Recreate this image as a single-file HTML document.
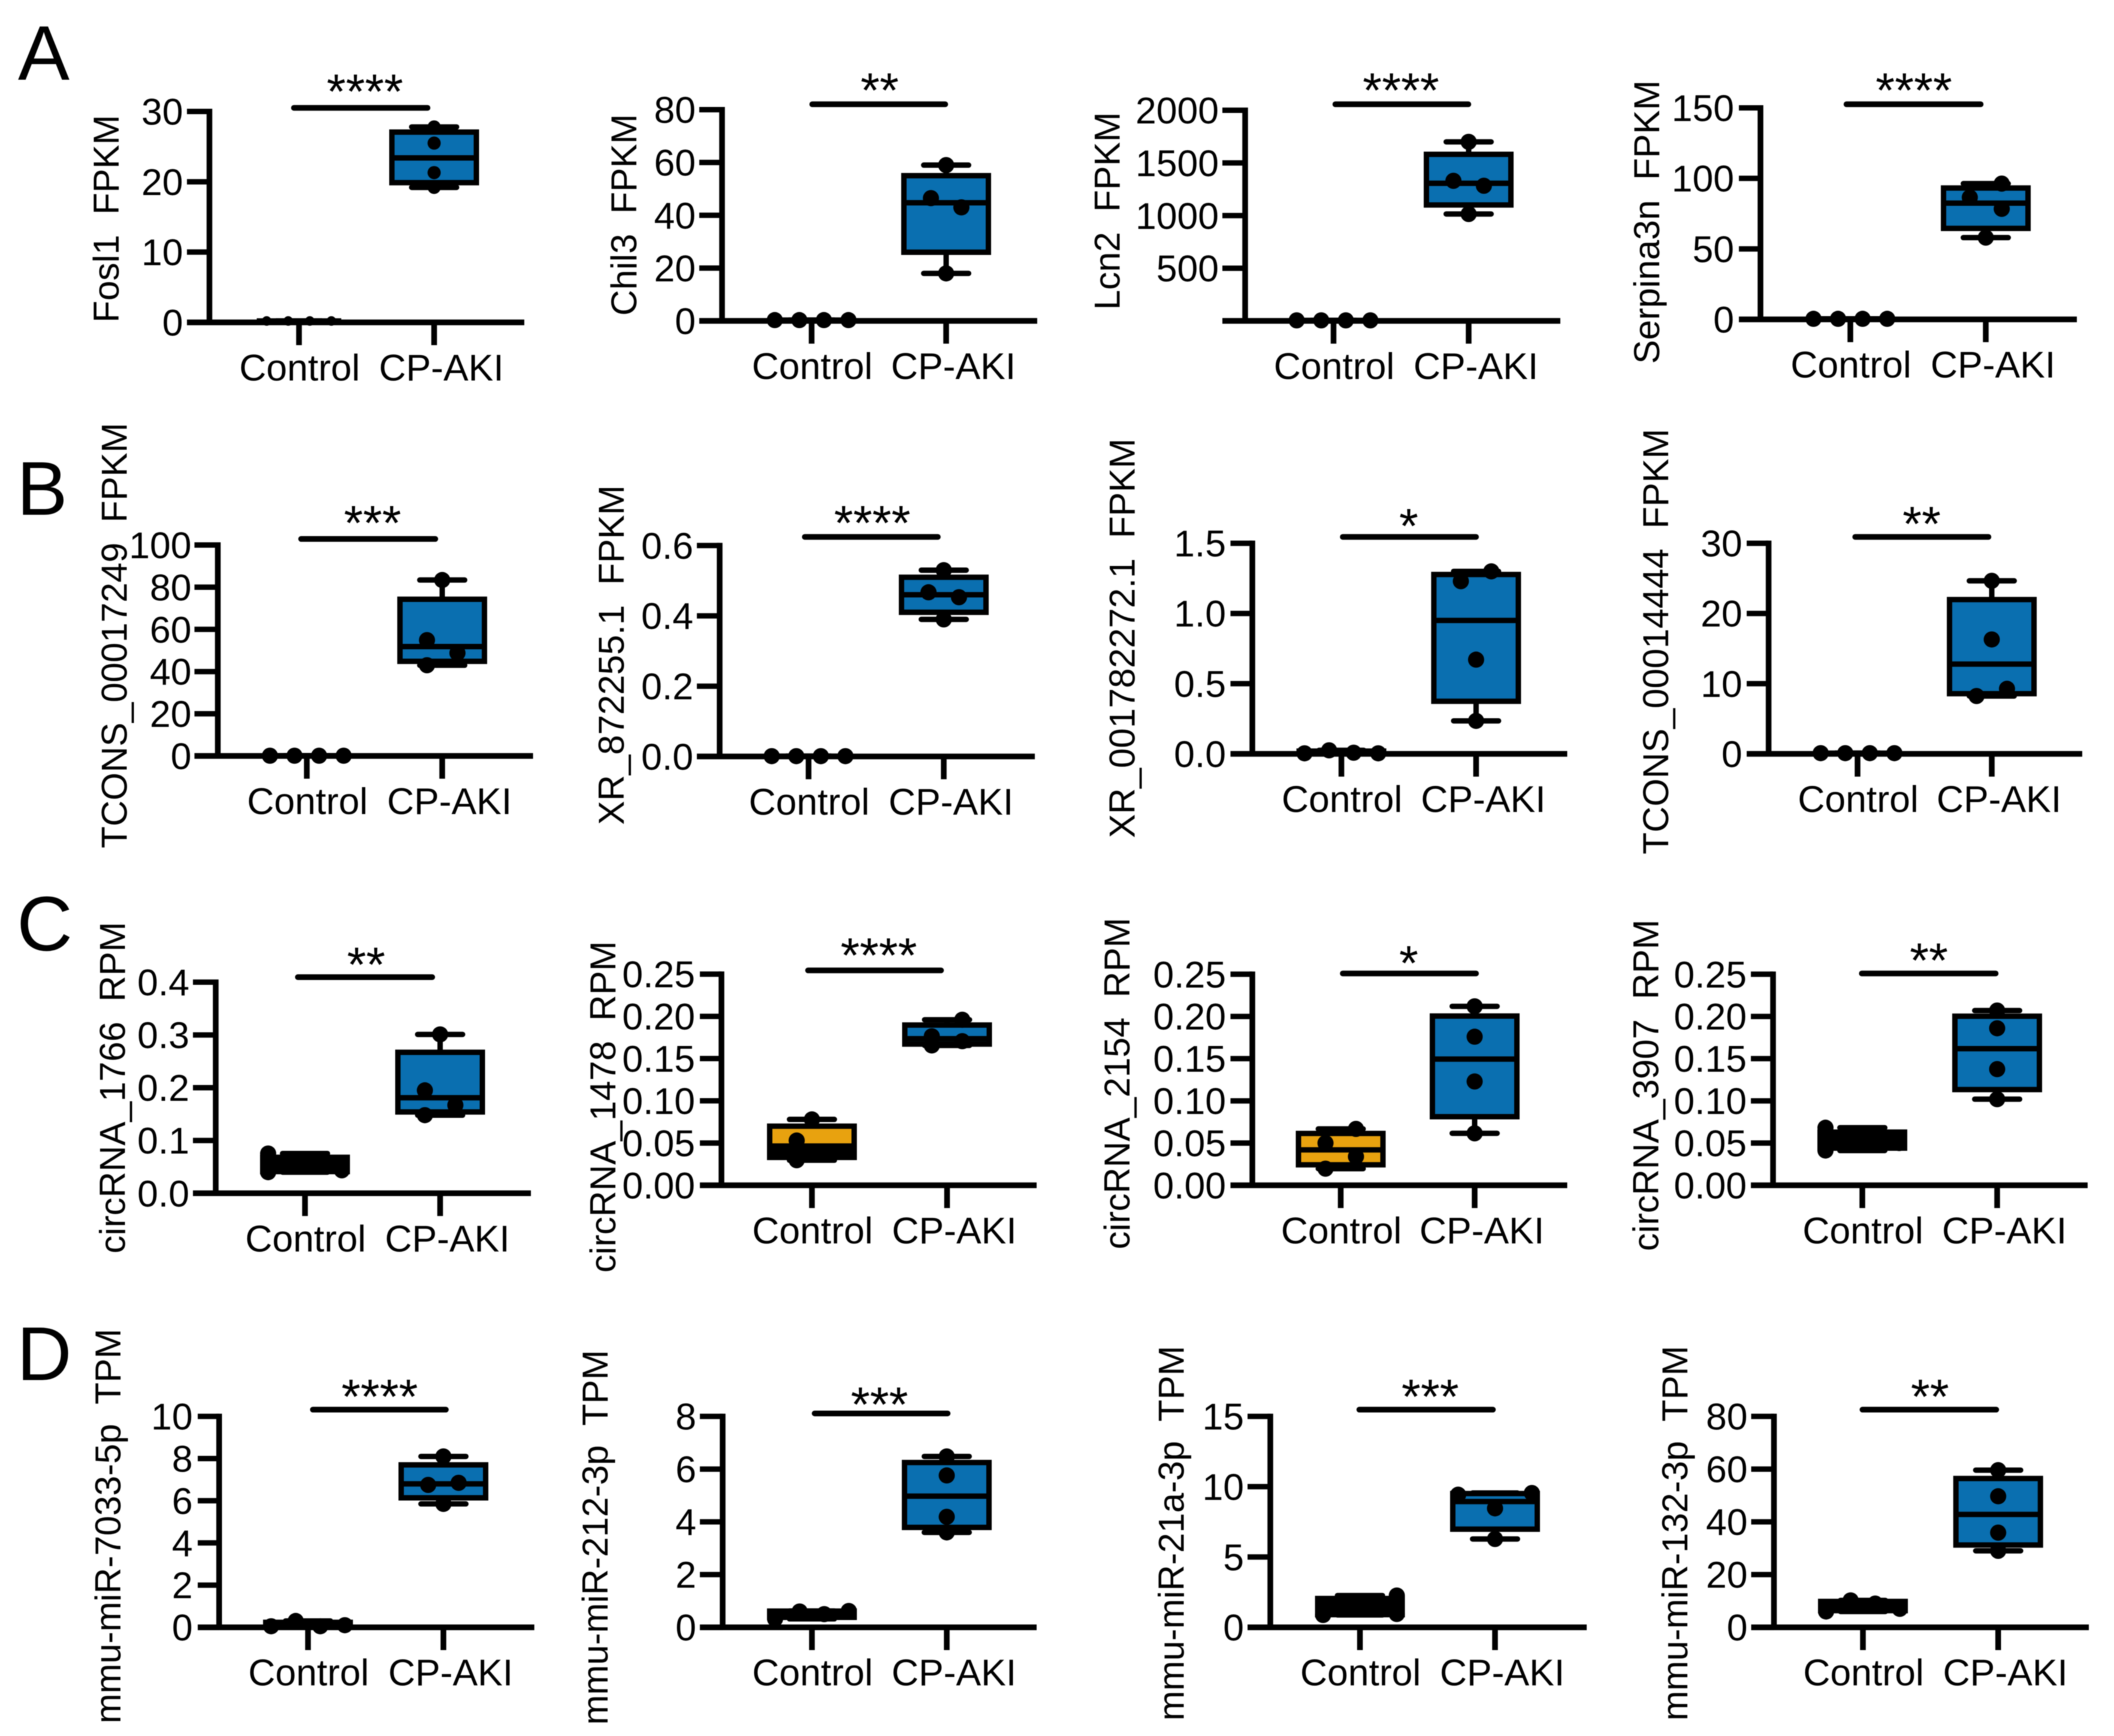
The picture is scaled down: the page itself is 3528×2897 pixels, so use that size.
<!DOCTYPE html>
<html lang="en">
<head>
<meta charset="utf-8">
<title>Boxplots of FPKM, RPM and TPM in Control and CP-AKI groups</title>
<style>
html,body{margin:0;padding:0;background:#fff;width:3528px;height:2897px;overflow:hidden}
svg{display:block;filter:blur(0.7px)}
text{font-family:"Liberation Sans",Arial,sans-serif;fill:#000;white-space:pre}
</style>
</head>
<body>
<svg id="figure" xmlns="http://www.w3.org/2000/svg" width="3528" height="2897" viewBox="0 0 3528 2897">
<rect width="3528" height="2897" fill="#fff"/>
<text x="30" y="133" font-size="129">A</text>
<text x="28" y="859" font-size="127">B</text>
<text x="28" y="1586" font-size="129">C</text>
<text x="28" y="2303" font-size="127">D</text>
</svg>
<script>
const groupLabels = ['Control', 'CP-AKI'];

const fosl1Control = [0.2, 0.2, 0.2, 0.2];
const fosl1Aki = [19.2, 21.3, 25.5, 27.8];
const fosl1Ticks = [0, 10, 20, 30];
const fosl1TickLabels = ['0', '10', '20', '30'];

const chil3Control = [0.3, 0.3, 0.3, 0.3];
const chil3Aki = [18, 43, 46.5, 59];
const chil3Ticks = [0, 20, 40, 60, 80];
const chil3TickLabels = ['0', '20', '40', '60', '80'];

const lcn2Control = [5, 5, 5, 5];
const lcn2Aki = [1015, 1283, 1330, 1700];
const lcn2Ticks = [0, 500, 1000, 1500, 2000];
const lcn2TickLabels = ['', '500', '1000', '1500', '2000'];

const serpinaControl = [0.4, 0.4, 0.4, 0.4];
const serpinaAki = [58, 78.4, 86.5, 96.3];
const serpinaTicks = [0, 50, 100, 150];
const serpinaTickLabels = ['0', '50', '100', '150'];

const tcons17249Control = [0.1, 0.1, 0.1, 0.1];
const tcons17249Aki = [43, 48.8, 54.9, 83.4];
const tcons17249Ticks = [0, 20, 40, 60, 80, 100];
const tcons17249TickLabels = ['0', '20', '40', '60', '80', '100'];

const xr872255Control = [0.001, 0.001, 0.001, 0.001];
const xr872255Aki = [0.39, 0.453, 0.467, 0.53];
const xr872255Ticks = [0, 0.2, 0.4, 0.6];
const xr872255TickLabels = ['0.0', '0.2', '0.4', '0.6'];

const xr1782272Control = [0.004, 0.025, 0.008, 0.004];
const xr1782272Aki = [0.235, 0.671, 1.23, 1.3];
const xr1782272Ticks = [0, 0.5, 1, 1.5];
const xr1782272TickLabels = ['0.0', '0.5', '1.0', '1.5'];

const tcons14444Control = [0.1, 0.1, 0.1, 0.1];
const tcons14444Aki = [8.24, 9.27, 16.3, 24.65];
const tcons14444Ticks = [0, 10, 20, 30];
const tcons14444TickLabels = ['0', '10', '20', '30'];

const circ1766Control = [0.04, 0.0435, 0.053, 0.0753];
const circ1766Aki = [0.148, 0.167, 0.195, 0.301];
const circ1766Ticks = [0, 0.1, 0.2, 0.3, 0.4];
const circ1766TickLabels = ['0.0', '0.1', '0.2', '0.3', '0.4'];

const circ1478Control = [0.0297, 0.04, 0.053, 0.078];
const circ1478Aki = [0.1656, 0.1706, 0.1764, 0.196];
const circ1478Ticks = [0, 0.05, 0.1, 0.15, 0.2, 0.25];
const circ1478TickLabels = ['0.00', '0.05', '0.10', '0.15', '0.20', '0.25'];

const circ2154Control = [0.0197, 0.034, 0.05, 0.0668];
const circ2154Aki = [0.0616, 0.123, 0.176, 0.212];
const circ2154Ticks = [0, 0.05, 0.1, 0.15, 0.2, 0.25];
const circ2154TickLabels = ['0.00', '0.05', '0.10', '0.15', '0.20', '0.25'];

const circ3907Control = [0.0412, 0.05, 0.052, 0.0682];
const circ3907Aki = [0.102, 0.1376, 0.186, 0.207];
const circ3907Ticks = [0, 0.05, 0.1, 0.15, 0.2, 0.25];
const circ3907TickLabels = ['0.00', '0.05', '0.10', '0.15', '0.20', '0.25'];

const mir7033Control = [0.05, 0.05, 0.1, 0.3];
const mir7033Aki = [5.85, 6.75, 6.85, 8.1];
const mir7033Ticks = [0, 2, 4, 6, 8, 10];
const mir7033TickLabels = ['0', '2', '4', '6', '8', '10'];

const mir212Control = [0.32, 0.5, 0.6, 0.62];
const mir212Aki = [3.6, 4.19, 5.76, 6.48];
const mir212Ticks = [0, 2, 4, 6, 8];
const mir212TickLabels = ['0', '2', '4', '6', '8'];

const mir21aControl = [0.877, 0.945, 1.6, 2.26];
const mir21aAki = [6.28, 8.46, 9.43, 9.55];
const mir21aTicks = [0, 5, 10, 15];
const mir21aTickLabels = ['0', '5', '10', '15'];

const mir132Control = [6, 7, 9, 10.2];
const mir132Aki = [29, 35.9, 49.7, 59.6];
const mir132Ticks = [0, 20, 40, 60, 80];
const mir132TickLabels = ['0', '20', '40', '60', '80'];

const ROW = [-1.5, -0.5, 0.5, 1.5];
const MID = [0, 0, 0, 0];
const SVGNS = 'http://www.w3.org/2000/svg';
const figure = document.getElementById('figure');
const BLUE = '#0A6FB0';
const ORANGE = '#E8A20F';

function make(parent, tag, attrs, text) {
  const el = document.createElementNS(SVGNS, tag);
  for (const k in attrs) el.setAttribute(k, attrs[k]);
  if (text !== undefined) el.textContent = text;
  parent.appendChild(el);
  return el;
}

function line(parent, x1, y1, x2, y2, w, cap) {
  return make(parent, 'line', {x1: x1, y1: y1, x2: x2, y2: y2, stroke: '#000', 'stroke-width': w, 'stroke-linecap': cap || 'butt'});
}

function quantile(sorted, p) {
  const pos = (sorted.length + 0.72) * p - 0.86;
  const lo = Math.max(0, Math.min(sorted.length - 1, Math.floor(pos)));
  const hi = Math.min(sorted.length - 1, lo + 1);
  return sorted[lo] + (sorted[hi] - sorted[lo]) * Math.max(0, pos - lo);
}

function drawBox(g, name, values, slots, cx, yScale, fill, lowerFill, slotWidth, r) {
  const sorted = values.slice().sort(function (a, b) { return a - b; });
  const q1 = quantile(sorted, 0.25);
  const q2 = quantile(sorted, 0.5);
  const q3 = quantile(sorted, 0.75);
  const lo = sorted[0];
  const hi = sorted[sorted.length - 1];
  const box = make(g, 'rect', {x: cx - 70.5, y: yScale(q3), width: 141, height: Math.max(0, yScale(q1) - yScale(q3)), fill: fill, stroke: '#000', 'stroke-width': 9});
  
  
  if (lowerFill) {
    const lowerHalf = make(g, 'rect', {x: cx - 70.5, y: yScale(q2), width: 141, height: Math.max(0, yScale(q1) - yScale(q2)), fill: lowerFill});
    
    
  }
  const whiskerHigh = line(g, cx, yScale(hi), cx, yScale(q3), 9);
  
  
  const whiskerLow = line(g, cx, yScale(q1), cx, yScale(lo), 9);
  
  
  const capHigh = line(g, cx - 37.5, yScale(hi), cx + 37.5, yScale(hi), 9, 'round');
  
  
  const capLow = line(g, cx - 37.5, yScale(lo), cx + 37.5, yScale(lo), 9, 'round');
  
  
  const median = line(g, cx - 70.5, yScale(q2), cx + 70.5, yScale(q2), 9);
  
  
  values.forEach(function (v, i) {
    const dot = make(g, 'circle', {cx: cx + slots[i] * slotWidth, cy: yScale(v), r: r, fill: '#000'});
    
    
  });
}

function drawPanel(p) {
  const g = make(figure, 'g', {});
  
  
  const domainMax = p.ticks[p.ticks.length - 1];
  const yScale = function (v) { return p.base - (v / domainMax) * (p.base - p.top); };
  const slotWidth = p.slotWidth || 41;

  drawBox(g, p.id + '-control', p.control, p.controlSlots, p.tx[0], yScale, p.controlFill || '#000', p.controlLowerFill, slotWidth, p.rControl || 13.5);
  drawBox(g, p.id + '-cp-aki', p.aki, p.akiSlots, p.tx[1], yScale, BLUE, null, 41, p.r || 13.5);

  const yAxis = line(g, p.ax, p.top - 4.5, p.ax, p.base, 9.5);
  
  
  const xAxis = line(g, p.left, p.base, p.right, p.base, 9.5);
  
  

  p.ticks.forEach(function (t, i) {
    const mark = line(g, p.left, yScale(t), p.ax, yScale(t), 9);
    
    
    const label = make(g, 'text', {x: p.ax - 44, y: yScale(t) + 22, 'font-size': 62.5, 'text-anchor': 'end'}, p.tickLabels[i]);
    
    
  });

  groupLabels.forEach(function (name, i) {
    const mark = line(g, p.tx[i], p.base, p.tx[i], p.base + 38, 9.5);
    
    
    const label = make(g, 'text', {x: p.tx[i] + (i === 0 ? 1 : 12), y: p.base + 97, 'font-size': 62.5, 'text-anchor': 'middle'}, name);
    
    
  });

  const title = make(g, 'text', {x: 0, y: 0, 'font-size': 60, 'text-anchor': 'middle', transform: 'translate(' + p.labelX + ' ' + p.labelY + ') rotate(-90)'}, p.title);
  
  

  const bar = line(g, p.sig[0] + 4.5, p.sigY, p.sig[1] - 4.5, p.sigY, 9.5, 'round');
  
  
  const stars = make(g, 'text', {x: p.starX, y: p.starY + 41, 'font-size': 82, 'text-anchor': 'middle'}, p.stars);
  
  
}

drawPanel({id: 'fosl1', title: 'Fosl1  FPKM', ticks: fosl1Ticks, tickLabels: fosl1TickLabels, control: fosl1Control, aki: fosl1Aki,
  controlSlots: ROW, akiSlots: MID, slotWidth: 36, rControl: 8, r: 11, stars: '****',
  ax: 349.5, top: 186, base: 538, left: 312, right: 875, tx: [499, 724.5], sig: [486, 718], sigY: 180, starX: 609, starY: 140, labelX: 198, labelY: 365});
drawPanel({id: 'chil3', title: 'Chil3  FPKM', ticks: chil3Ticks, tickLabels: chil3TickLabels, control: chil3Control, aki: chil3Aki,
  controlSlots: ROW, akiSlots: [0, 0.62, -0.62, 0], stars: '**',
  ax: 1205, top: 183, base: 535.5, left: 1167, right: 1731, tx: [1354.5, 1579], sig: [1351, 1582], sigY: 174, starX: 1468, starY: 138, labelX: 1062, labelY: 358.5});
drawPanel({id: 'lcn2', title: 'Lcn2  FPKM', ticks: lcn2Ticks, tickLabels: lcn2TickLabels, control: lcn2Control, aki: lcn2Aki,
  controlSlots: ROW, akiSlots: [0, 0.62, -0.62, 0], stars: '****',
  ax: 2078, top: 184, base: 535.5, left: 2040, right: 2604, tx: [2225.5, 2451], sig: [2224, 2455], sigY: 174, starX: 2338, starY: 138, labelX: 1868.6, labelY: 352});
drawPanel({id: 'serpina3n', title: 'Serpina3n  FPKM', ticks: serpinaTicks, tickLabels: serpinaTickLabels, control: serpinaControl, aki: serpinaAki,
  controlSlots: ROW, akiSlots: [0, 0.65, -0.65, 0.65], stars: '****',
  ax: 2938, top: 180, base: 533, left: 2902, right: 3466, tx: [3088, 3314], sig: [3077, 3310], sigY: 174, starX: 3194, starY: 138, labelX: 2769, labelY: 370.5});

drawPanel({id: 'tcons-00017249', title: 'TCONS_00017249  FPKM', ticks: tcons17249Ticks, tickLabels: tcons17249TickLabels, control: tcons17249Control, aki: tcons17249Aki,
  controlSlots: ROW, akiSlots: [-0.62, 0.62, -0.62, 0], stars: '***',
  ax: 363.5, top: 909.5, base: 1261.5, left: 324.5, right: 889.6, tx: [512, 738], sig: [498, 731], sigY: 899.4, starX: 621.7, starY: 860, labelX: 211.7, labelY: 1060.5});
drawPanel({id: 'xr-872255-1', title: 'XR_872255.1  FPKM', ticks: xr872255Ticks, tickLabels: xr872255TickLabels, control: xr872255Control, aki: xr872255Aki,
  controlSlots: ROW, akiSlots: [0, 0.62, -0.62, 0], stars: '****',
  ax: 1201, top: 910.4, base: 1262.4, left: 1163, right: 1727, tx: [1349.4, 1575], sig: [1338.6, 1569.6], sigY: 896, starX: 1455.7, starY: 860, labelX: 1041, labelY: 1093});
drawPanel({id: 'xr-001782272-1', title: 'XR_001782272.1  FPKM', ticks: xr1782272Ticks, tickLabels: xr1782272TickLabels, control: xr1782272Control, aki: xr1782272Aki,
  controlSlots: ROW, akiSlots: [0, 0, -0.62, 0.62], stars: '*',
  ax: 2090, top: 906.6, base: 1258, left: 2053.5, right: 2615.5, tx: [2238.6, 2463.4], sig: [2236.4, 2467.8], sigY: 896, starX: 2351, starY: 865, labelX: 1893.7, labelY: 1065});
drawPanel({id: 'tcons-00014444', title: 'TCONS_00014444  FPKM', ticks: tcons14444Ticks, tickLabels: tcons14444TickLabels, control: tcons14444Control, aki: tcons14444Aki,
  controlSlots: ROW, akiSlots: [-0.62, 0.62, 0, 0], stars: '**',
  ax: 2951.6, top: 906.6, base: 1258, left: 2915, right: 3475, tx: [3100, 3324], sig: [3091.6, 3323], sigY: 896, starX: 3207, starY: 861.6, labelX: 2784, labelY: 1070.6});

drawPanel({id: 'circrna-1766', title: 'circRNA_1766  RPM', ticks: circ1766Ticks, tickLabels: circ1766TickLabels, control: circ1766Control, aki: circ1766Aki,
  controlSlots: [-1.5, 1.5, 0, -1.5], akiSlots: [-0.62, 0.62, -0.62, 0], stars: '**',
  ax: 360, top: 1639, base: 1991.3, left: 322, right: 886, tx: [509, 734.5], sig: [492.6, 725.8], sigY: 1630.6, starX: 611, starY: 1597, labelX: 208.5, labelY: 1815});
drawPanel({id: 'circrna-1478', title: 'circRNA_1478  RPM', ticks: circ1478Ticks, tickLabels: circ1478TickLabels, control: circ1478Control, aki: circ1478Aki,
  controlFill: ORANGE, controlLowerFill: '#000',
  controlSlots: [-0.62, 0.62, -0.62, 0], akiSlots: [-0.62, 0.62, -0.62, 0.62], stars: '****',
  ax: 1204, top: 1625.6, base: 1978, left: 1168, right: 1730, tx: [1355, 1580.5], sig: [1344, 1575], sigY: 1619.4, starX: 1466.6, starY: 1581.7, labelX: 1027, labelY: 1847});
drawPanel({id: 'circrna-2154', title: 'circRNA_2154  RPM', ticks: circ2154Ticks, tickLabels: circ2154TickLabels, control: circ2154Control, aki: circ2154Aki,
  controlFill: ORANGE,
  controlSlots: [-0.62, 0.62, -0.62, 0.62], akiSlots: MID, stars: '*',
  ax: 2090, top: 1625.8, base: 1978, left: 2053.5, right: 2615.5, tx: [2237.5, 2461], sig: [2236.4, 2467.8], sigY: 1624.5, starX: 2351, starY: 1594.5, labelX: 1885, labelY: 1808});
drawPanel({id: 'circrna-3907', title: 'circRNA_3907  RPM', ticks: circ3907Ticks, tickLabels: circ3907TickLabels, control: circ3907Control, aki: circ3907Aki,
  controlSlots: [-1.5, 1.5, 0, -1.5], akiSlots: MID, stars: '**',
  ax: 2959, top: 1625.8, base: 1978, left: 2922, right: 3484, tx: [3108, 3333], sig: [3102.6, 3335], sigY: 1624.5, starX: 3219, starY: 1590, labelX: 2767.6, labelY: 1811});

drawPanel({id: 'mmu-mir-7033-5p', title: 'mmu-miR-7033-5p  TPM', ticks: mir7033Ticks, tickLabels: mir7033TickLabels, control: mir7033Control, aki: mir7033Aki,
  controlSlots: [-1.5, 0.5, 1.5, -0.5], akiSlots: [0, -0.62, 0.62, 0], stars: '****',
  ax: 365.7, top: 2363.6, base: 2715.6, left: 330, right: 891.7, tx: [514, 740], sig: [517.6, 748.6], sigY: 2352.4, starX: 633.6, starY: 2317.8, labelX: 200.9, labelY: 2546.6});
drawPanel({id: 'mmu-mir-212-3p', title: 'mmu-miR-212-3p  TPM', ticks: mir212Ticks, tickLabels: mir212TickLabels, control: mir212Control, aki: mir212Aki,
  controlSlots: [-1.5, 0.5, -0.5, 1.5], akiSlots: MID, stars: '***',
  ax: 1206, top: 2363.6, base: 2715.6, left: 1168, right: 1730, tx: [1355, 1580], sig: [1355, 1586], sigY: 2358.7, starX: 1467.7, starY: 2331, labelX: 1014, labelY: 2565.5});
drawPanel({id: 'mmu-mir-21a-3p', title: 'mmu-miR-21a-3p  TPM', ticks: mir21aTicks, tickLabels: mir21aTickLabels, control: mir21aControl, aki: mir21aAki,
  controlSlots: [-1.5, 1.5, 0, 1.5], akiSlots: [0, 0, -1.5, 1.5], stars: '***',
  ax: 2120, top: 2363.6, base: 2715.6, left: 2082, right: 2648, tx: [2269.6, 2495], sig: [2264, 2496], sigY: 2352.4, starX: 2386.8, starY: 2317.8, labelX: 1975.7, labelY: 2558.5});
drawPanel({id: 'mmu-mir-132-3p', title: 'mmu-miR-132-3p  TPM', ticks: mir132Ticks, tickLabels: mir132TickLabels, control: mir132Control, aki: mir132Aki,
  controlSlots: [-1.5, 1.5, 0.5, -0.5], akiSlots: MID, stars: '**',
  ax: 2960.5, top: 2363.6, base: 2715.6, left: 2922.5, right: 3486, tx: [3109, 3334.7], sig: [3103.7, 3336], sigY: 2352.4, starX: 3220.8, starY: 2317.8, labelX: 2816, labelY: 2558.5});
</script>
</body>
</html>
